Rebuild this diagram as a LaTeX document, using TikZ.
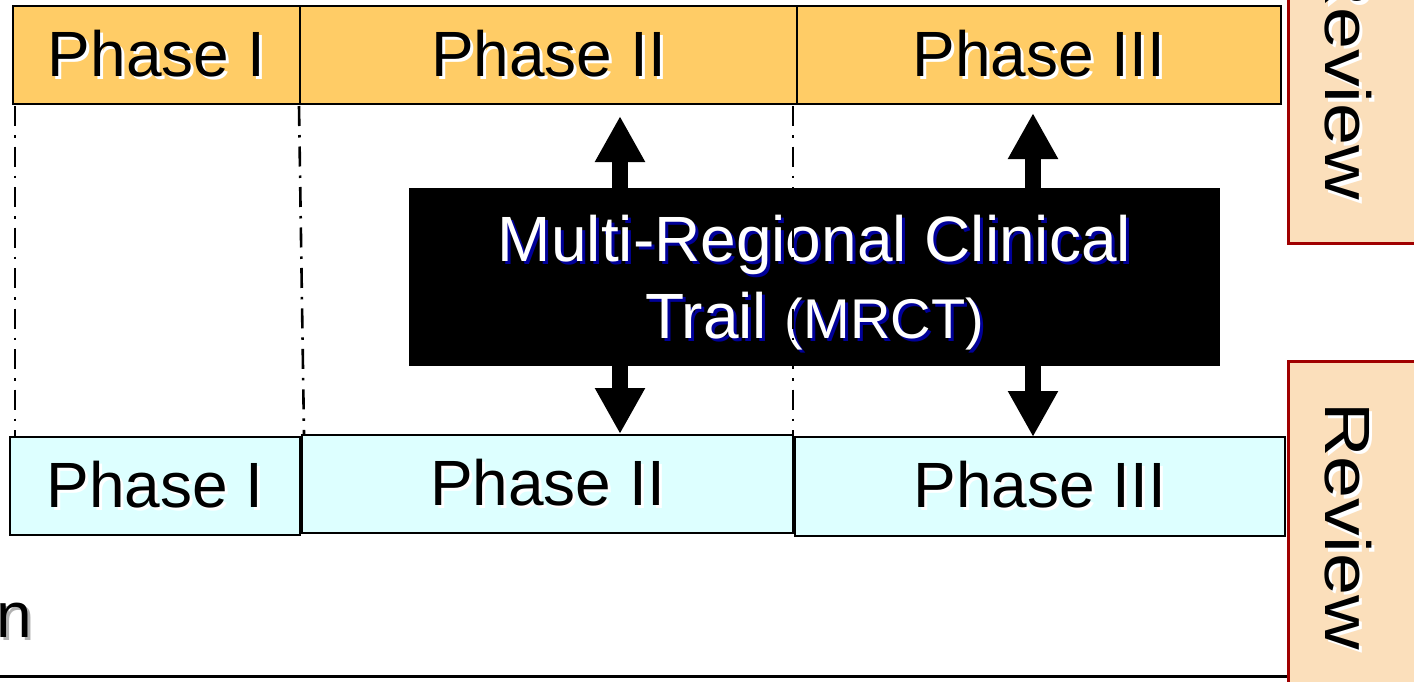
\documentclass[tikz,border=0pt]{standalone}
\usepackage{fontspec}
\usepackage{graphicx}
\setmainfont{Liberation Sans}
\usetikzlibrary{arrows.meta}
\definecolor{phasetop}{HTML}{FFCC66}
\definecolor{phasebot}{HTML}{DDFFFF}
\definecolor{revfill}{HTML}{FBDFBB}
\definecolor{revline}{HTML}{A00000}
\definecolor{shblue}{HTML}{000099}
\newcommand\shtxt[3]{\rlap{\hspace{3pt}\raisebox{-3pt}{\color{#1}#3}}{\color{#2}#3}}
\newcommand\shrot[3]{\rlap{\hspace{3pt}\raisebox{3pt}{\color{#1}#3}}{\color{#2}#3}}
\tikzset{
  phtop/.style={draw=black, line width=2.6pt, fill=phasetop, minimum height=98pt, inner sep=0pt, font=\fontsize{64}{70}\selectfont},
  phbot/.style={draw=black, line width=2.6pt, fill=phasebot, minimum height=98pt, inner sep=0pt, font=\fontsize{64}{70}\selectfont},
  revbox/.style={draw=revline, line width=2.6pt, fill=revfill, inner sep=0pt, anchor=north west},
  revtext/.style={rotate=-90, anchor=base, inner sep=0pt, font=\fontsize{64}{70}\selectfont},
  dashdot/.style={line width=2.6pt, dash pattern=on 20pt off 9pt on 2.5pt off 9pt},
  blockarrow/.style={line width=16pt, {Triangle[width=47pt,length=46pt]}-{Triangle[width=47pt,length=46pt]}},
}
\begin{document}
\begin{tikzpicture}[x=1pt,y=-1pt]
\useasboundingbox (0,0) rectangle (1414,681);
\clip (0,0) rectangle (1414,681);
\fill[white] (0,0) rectangle (1414,681);

% bottom rule
\coordinate (bl1) at (0,676);
\coordinate (bl2) at (1287,676);
\draw[line width=3pt] (bl1) -- (bl2);

% review boxes
\node[revbox, minimum width=170pt, minimum height=262pt] (r1) at (1287,-20) {};
\node[revbox, minimum width=170pt, minimum height=360pt] (r2) at (1287,360) {};
\node[revtext] (r1t) at (1325,76.5) {\scalebox{1.18}[1]{\shrot{white}{black}{Review}}};
\node[revtext] (r2t) at (1325,526) {\scalebox{1.18}[1]{\shrot{white}{black}{Review}}};

% top phases
\node[phtop, minimum width=287pt] (t1) at (156.5,55) {\raisebox{-2pt}{\shtxt{white}{black}{Phase I}}};
\node[phtop, minimum width=497pt] (t2) at (548.5,55) {\raisebox{-2pt}{\shtxt{white}{black}{Phase II}}};
\node[phtop, minimum width=484pt] (t3) at (1039,55) {\raisebox{-2pt}{\shtxt{white}{black}{Phase III}}};

% bottom phases
\node[phbot, minimum width=290pt] (b1) at (155,486) {\shtxt{white}{black}{Phase I}};
\node[phbot, minimum width=491pt] (b2) at (547.5,484) {\shtxt{white}{black}{Phase II}};
\node[phbot, minimum width=490pt, minimum height=99pt] (b3) at (1040,486.5) {\shtxt{white}{black}{Phase III}};

% arrows
\coordinate (a1t) at (620,116);
\coordinate (a1b) at (620,434);
\coordinate (a2t) at (1033,113);
\coordinate (a2b) at (1033,437);
\draw[blockarrow] (a1t) -- (a1b);
\draw[blockarrow] (a2t) -- (a2b);

% MRCT box
\node[fill=black, minimum width=811pt, minimum height=178pt, inner sep=0pt] (mrct) at (814.5,277) {};
\node[align=center, inner sep=0pt, font=\fontsize{64}{77}\selectfont] (mrcttxt) at (814.5,284)
  {\shtxt{shblue}{white}{Multi-Regional Clinical}\\
   \shtxt{shblue}{white}{Trail {\fontsize{56}{60}\selectfont(MRCT)}}};

% dash-dot guides
\coordinate (d1a) at (15,106);
\coordinate (d1b) at (15,436);
\coordinate (d2a) at (299,106);
\coordinate (d2b) at (304,434);
\coordinate (d3a) at (793,106);
\coordinate (d3b) at (793,434);
\draw[dashdot] (d1a) -- (d1b);
\draw[dashdot] (d2a) -- (d2b);
\draw[dashdot] (d3a) -- (d3b);

% cut-off word
\node[anchor=base west, inner sep=0pt, font=\fontsize{64}{70}\selectfont] (ntxt) at (-4,637) {\shtxt{gray!60}{black}{n}};
\end{tikzpicture}
\end{document}
